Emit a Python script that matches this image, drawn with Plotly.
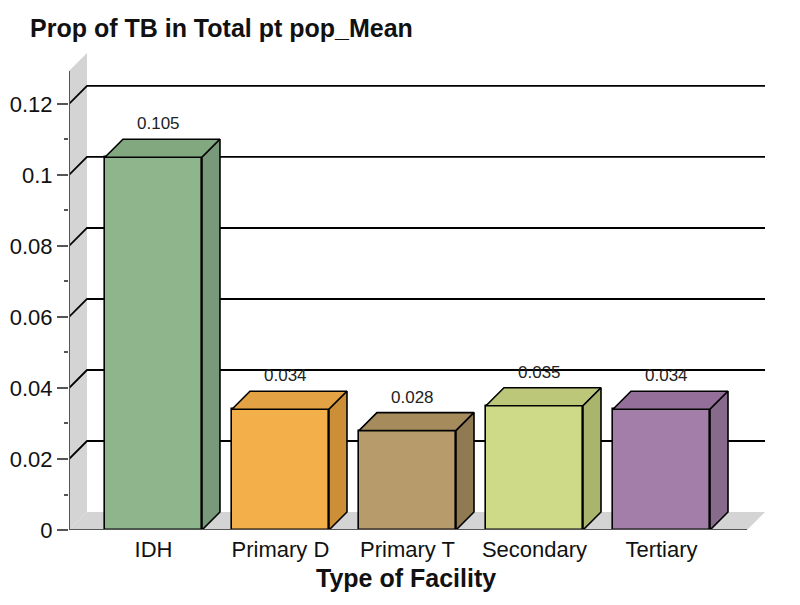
import plotly.graph_objects as go

# ---- data ----
categories = ["IDH", "Primary D", "Primary T", "Secondary", "Tertiary"]
values = [0.105, 0.034, 0.028, 0.035, 0.034]
value_labels = ["0.105", "0.034", "0.028", "0.035", "0.034"]
y_tickvals = [0, 0.02, 0.04, 0.06, 0.08, 0.1, 0.12]
y_ticktext = ["0", "0.02", "0.04", "0.06", "0.08", "0.1", "0.12"]
y_minor = [0.01, 0.03, 0.05, 0.07, 0.09, 0.11]

front_colors = ["#8fb58d", "#f2af4a", "#b89b6a", "#cfda88", "#a37ea9"]
top_colors = ["#81a87f", "#e3a243", "#a68c5d", "#bcc779", "#946f9a"]
side_colors = ["#78997a", "#cc8f37", "#8f7a52", "#a9b46c", "#876a8c"]

# ---- geometry (axis units) ----
BAR_W = 0.764
DX = 0.1417      # depth offset in x units
DY = 0.00507     # depth offset in y units
X_MIN, X_MAX = -0.665, 4.815
Y_MAX = 0.1352
WALL_TOP = 0.1293
FLOOR_RIGHT = X_MAX - DX

FONT = "Arial, 'Liberation Sans', sans-serif"
INK = "#111111"
xs = list(range(len(categories)))

fig = go.Figure()

# front faces
fig.add_trace(go.Bar(
    x=xs, y=values, width=BAR_W,
    marker=dict(color=front_colors, line=dict(color="#000000", width=1.6)),
    hoverinfo="skip", showlegend=False,
))

# top and side faces
for i, v in enumerate(values):
    l, r = xs[i] - BAR_W / 2, xs[i] + BAR_W / 2
    fig.add_trace(go.Scatter(
        x=[l, r, r + DX, l + DX, l], y=[v, v, v + DY, v + DY, v],
        mode="lines", fill="toself", fillcolor=top_colors[i],
        line=dict(color="#000000", width=1.6), hoverinfo="skip", showlegend=False,
    ))
    fig.add_trace(go.Scatter(
        x=[r, r + DX, r + DX, r, r], y=[0, DY, v + DY, v, 0],
        mode="lines", fill="toself", fillcolor=side_colors[i],
        line=dict(color="#000000", width=1.6), hoverinfo="skip", showlegend=False,
    ))

shapes = []
# back wall
shapes.append(dict(type="path", xref="x", yref="y", layer="below",
                   path=f"M {X_MIN},0 L {X_MIN+DX},{DY} L {X_MIN+DX},{WALL_TOP+DY} L {X_MIN},{WALL_TOP} Z",
                   fillcolor="#d4d4d4", line=dict(width=0)))
# floor
shapes.append(dict(type="path", xref="x", yref="y", layer="below",
                   path=f"M {X_MIN},0 L {FLOOR_RIGHT},0 L {X_MAX},{DY} L {X_MIN+DX},{DY} Z",
                   fillcolor="#d4d4d4", line=dict(width=0)))
# gridlines (diagonal + back line)
for t in y_tickvals[1:]:
    shapes.append(dict(type="path", xref="x", yref="y", layer="below",
                       path=f"M {X_MIN},{t} L {X_MIN+DX},{t+DY} L {X_MAX},{t+DY}",
                       line=dict(color="#000000", width=1.8)))
# front y axis line
shapes.append(dict(type="line", xref="x", yref="y", layer="above",
                   x0=X_MIN, x1=X_MIN, y0=0, y1=WALL_TOP, line=dict(color="#555555", width=2)))
# baseline
shapes.append(dict(type="line", xref="x", yref="y", layer="above",
                   x0=X_MIN, x1=FLOOR_RIGHT, y0=0, y1=0, line=dict(color="#555555", width=2)))

annotations = []
for i, v in enumerate(values):
    annotations.append(dict(
        x=xs[i] + DX * 0.3, y=v + DY, xref="x", yref="y",
        text=value_labels[i], showarrow=False, yanchor="bottom", yshift=4,
        font=dict(family=FONT, size=17, color="#222222"),
    ))
annotations.append(dict(
    x=0.484, y=-0.1, xref="paper", yref="paper", text="<b>Type of Facility</b>",
    showarrow=False, xanchor="center", yanchor="middle",
    font=dict(family=FONT, size=25, color=INK),
))

fig.update_layout(
    width=800, height=605,
    margin=dict(l=61, r=43, t=42, b=83, pad=0, autoexpand=False),
    paper_bgcolor="#ffffff", plot_bgcolor="#ffffff",
    title=dict(text="<b>Prop of TB in Total pt pop_Mean</b>", x=22 / 800, xanchor="left",
               xref="container", y=1 - 20 / 605, yanchor="middle", yref="container",
               font=dict(family=FONT, size=25, color=INK), automargin=False),
    bargap=0, showlegend=False,
    shapes=shapes, annotations=annotations,
    xaxis=dict(range=[X_MIN, X_MAX], tickvals=xs, ticktext=categories,
               showgrid=False, zeroline=False, showline=False, ticks="",
               ticklabelstandoff=4, automargin=False,
               tickfont=dict(family=FONT, size=22, color=INK), fixedrange=True),
    yaxis=dict(range=[0, Y_MAX], tickvals=y_tickvals, ticktext=y_ticktext,
               showgrid=False, zeroline=False, showline=False, automargin=False,
               ticks="outside", ticklen=11, tickwidth=2, tickcolor="#555555",
               ticklabelstandoff=0,
               minor=dict(tickvals=y_minor, ticks="outside", ticklen=4, tickwidth=2, tickcolor="#555555"),
               tickfont=dict(family=FONT, size=22, color=INK), fixedrange=True),
)

fig.write_html("out.html")
